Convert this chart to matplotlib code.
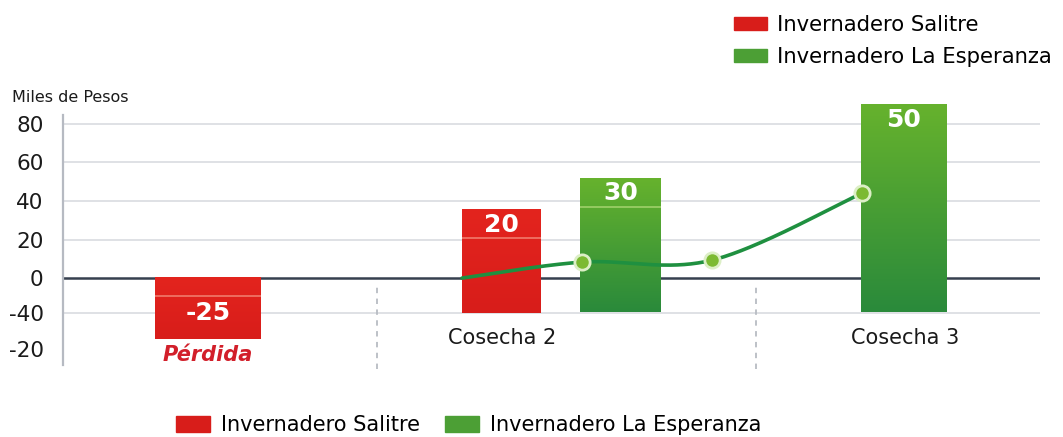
import numpy as np
import matplotlib.pyplot as plt
from matplotlib.colors import LinearSegmentedColormap
from matplotlib.patches import Patch

plt.rcParams['font.family'] = ['DejaVu Sans']

# Datos (miles de pesos)
categorias = ["Pérdida", "Cosecha 2", "Cosecha 3"]
series = ["Invernadero Salitre", "Invernadero La Esperanza"]
# valores que se rotulan en cada barra
salitre_etiqueta = [-25, 20]
esperanza_etiqueta = [30, 50]
# alto dibujado de cada barra (arriba / abajo)
salitre_arriba = [0, 35.3]
salitre_abajo = [-31.7, -18.2]
esperanza_arriba = [51.9, 90.3]
esperanza_abajo = [-17.6, -17.6]
# línea de tendencia
tendencia_y = [0, 8.3, 9.3, 44.1]
# eje y (las etiquetas del original no siguen la escala)
ytick_pos = [80, 60, 40, 20, 0, -18, -37]
ytick_txt = ["80", "60", "40", "20", "0", "-40", "-20"]

# Posiciones (unidades de 100 px)
salitre_x = [1.45, 4.385]
salitre_w = [1.06, 0.79]
esperanza_x = [5.575, 8.41]
esperanza_w = [0.81, 0.86]
cat_x = [1.45, 4.39, 8.42]
separadores = [3.14, 6.93]
tendencia_x = [3.99, 5.19, 6.49, 7.99]

ROJO_A, ROJO_B = "#e3241e", "#d81d1a"
VERDE_A, VERDE_B = "#66b22d", "#2a8a3b"

fig = plt.figure(figsize=(10.63, 4.37), dpi=100)
ax = fig.add_axes([63 / 1063, (437 - 370) / 437, 977 / 1063, 274 / 437])
ax.set_xlim(0, 9.77)
ax.set_ylim(-47.7, 94.5)

# rejilla
for y in ytick_pos:
    if y in (0, ytick_pos[-1]):
        continue
    ax.axhline(y, color="#d6d9de", lw=1.1, zorder=0)
ax.axhline(0, color="#36404f", lw=1.8, zorder=1)

for s in separadores:
    ax.vlines(s, -47, -4.7, colors="#b8bcc3", lw=1.3, linestyles=(0, (3, 3)), zorder=1)


def barra_degradado(x, w, abajo, arriba, c_top, c_bot):
    cmap = LinearSegmentedColormap.from_list("g", [c_top, c_bot])
    grad = np.linspace(0, 1, 100).reshape(-1, 1)
    ax.bar(x, arriba - abajo, w, bottom=abajo, color=c_bot, zorder=2)
    ax.imshow(grad, extent=[x - w / 2, x + w / 2, abajo, arriba], aspect="auto",
              cmap=cmap, origin="upper", zorder=2.1)


for x, w, lo, hi in zip(salitre_x, salitre_w, salitre_abajo, salitre_arriba):
    barra_degradado(x, w, lo, hi, ROJO_A, ROJO_B)
for x, w, lo, hi in zip(esperanza_x, esperanza_w, esperanza_abajo, esperanza_arriba):
    barra_degradado(x, w, lo, hi, VERDE_A, VERDE_B)

# brillos finos dentro de las barras
ax.hlines(-9.3, salitre_x[0] - salitre_w[0] / 2, salitre_x[0] + salitre_w[0] / 2,
          colors="#f07a6c", lw=1.2, zorder=2.5)
ax.hlines(salitre_arriba[1] - 14.5, salitre_x[1] - salitre_w[1] / 2, salitre_x[1] + salitre_w[1] / 2,
          colors="#f07a6c", lw=1.2, zorder=2.5)
ax.hlines(esperanza_arriba[0] - 15, esperanza_x[0] - esperanza_w[0] / 2, esperanza_x[0] + esperanza_w[0] / 2,
          colors="#9fd06a", lw=1.2, zorder=2.5)

# etiquetas de valor
ax.text(salitre_x[0], salitre_abajo[0] + 13.5, str(salitre_etiqueta[0]), ha="center", va="center",
        color="white", fontsize=18, fontweight="bold", zorder=4)
ax.text(salitre_x[1], salitre_arriba[1] - 7.5, str(salitre_etiqueta[1]), ha="center", va="center",
        color="white", fontsize=18, fontweight="bold", zorder=4)
for x, top, v in zip(esperanza_x, esperanza_arriba, esperanza_etiqueta):
    ax.text(x, top - 8, str(v), ha="center", va="center",
            color="white", fontsize=18, fontweight="bold", zorder=4)


# línea suave (Catmull-Rom)
def suavizar(xs, ys, n=60):
    p = np.column_stack([xs, ys]).astype(float)
    p = np.vstack([p[0], p, p[-1]])
    t = np.linspace(0, 1, n)[:, None]
    segs = []
    for i in range(1, len(p) - 2):
        p0, p1, p2, p3 = p[i - 1], p[i], p[i + 1], p[i + 2]
        segs.append(0.5 * (2 * p1 + (-p0 + p2) * t + (2 * p0 - 5 * p1 + 4 * p2 - p3) * t ** 2
                           + (-p0 + 3 * p1 - 3 * p2 + p3) * t ** 3))
    return np.vstack(segs)


curva = suavizar(tendencia_x, tendencia_y)
ax.plot(curva[:, 0], curva[:, 1], color="#1f9040", lw=2.6, zorder=5, solid_capstyle="round")
ax.plot(tendencia_x[1:], tendencia_y[1:], "o", ms=11, mfc="#7cba32", mec="#dcefc6",
        mew=2, zorder=6)

# categorías
ax.text(cat_x[0], -40, categorias[0], ha="center", va="center", color="#d21f2a",
        fontsize=15, fontweight="bold", fontstyle="italic")
for x, c in zip(cat_x[1:], categorias[1:]):
    ax.text(x, -31.3, c, ha="center", va="center", color="#1a1a1a", fontsize=15)

# ejes
for s in ["top", "right", "bottom"]:
    ax.spines[s].set_visible(False)
ax.spines["left"].set_bounds(-45, 84.5)
ax.spines["left"].set_color("#b6bac2")
ax.spines["left"].set_linewidth(1.6)
ax.set_xticks([])
ax.set_yticks(ytick_pos)
ax.set_yticklabels(ytick_txt, fontsize=15.5, color="#1a1a1a")
ax.tick_params(axis="y", length=0, pad=14)

fig.text(12 / 1063, 1 - 97 / 437, "Miles de Pesos", fontsize=11.5, color="#1a1a1a",
         ha="left", va="center")

# leyendas
handles = [Patch(color=ROJO_B), Patch(color="#4c9f35")]
fig.legend(handles, series, loc="upper left", bbox_to_anchor=(734 / 1063, 1 - 15 / 437),
           frameon=False, fontsize=15.2, handlelength=1.55, handleheight=0.56,
           handletextpad=0.47, labelspacing=0.58, borderpad=0, borderaxespad=0)
fig.legend(handles, series, loc="upper left", bbox_to_anchor=(176 / 1063, 1 - 415 / 437),
           ncol=2, frameon=False, fontsize=15, handlelength=1.63, handleheight=0.82,
           handletextpad=0.53, columnspacing=1.2, borderpad=0, borderaxespad=0)

fig.savefig("out.png", dpi=100)
